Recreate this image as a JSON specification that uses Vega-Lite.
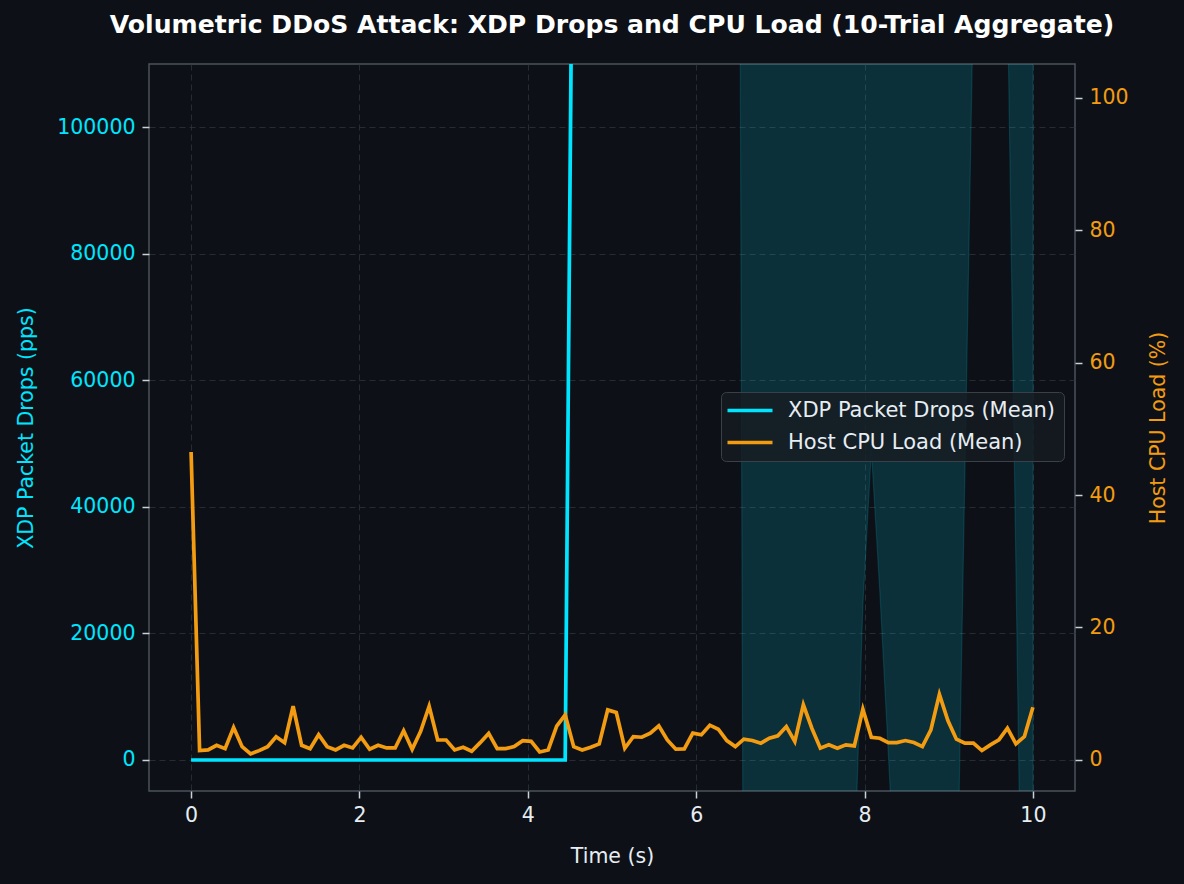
{
  "$schema": "https://vega.github.io/schema/vega-lite/v6.json",
  "width": 926,
  "height": 727,
  "autosize": {"type": "none"},
  "padding": {"left": 149, "top": 64, "right": 109, "bottom": 93},
  "background": "#0d1117",
  "title": {
    "text": "Volumetric DDoS Attack: XDP Drops and CPU Load (10-Trial Aggregate)",
    "font": "DejaVu Sans",
    "fontSize": 25.1,
    "fontWeight": "bold",
    "color": "#ffffff",
    "anchor": "middle",
    "baseline": "alphabetic",
    "offset": 6
  },
  "config": {
    "view": {"fill": "#0d1117", "stroke": "#4b5259", "strokeWidth": 1.5},
    "axis": {
      "domain": false,
      "tickColor": "#c9d1d9",
      "tickSize": 7,
      "tickWidth": 1.5,
      "labelFont": "DejaVu Sans",
      "labelFontSize": 20.5,
      "labelPadding": 7,
      "titleFont": "DejaVu Sans",
      "titleFontSize": 20.5,
      "titleFontWeight": "normal",
      "gridColor": "#30363d",
      "gridOpacity": 0.75,
      "gridDash": [6, 4],
      "gridWidth": 1
    },
    "legend": {
      "labelFont": "DejaVu Sans"
    }
  },
  "data": {
    "values": [
      {"t": 0.0, "cpu": 46.5, "xdp": 0, "lo": 0, "hi": 0},
      {"t": 0.101, "cpu": 1.4, "xdp": 0, "lo": 0, "hi": 0},
      {"t": 0.202, "cpu": 1.5, "xdp": 0, "lo": 0, "hi": 0},
      {"t": 0.303, "cpu": 2.2, "xdp": 0, "lo": 0, "hi": 0},
      {"t": 0.404, "cpu": 1.7, "xdp": 0, "lo": 0, "hi": 0},
      {"t": 0.505, "cpu": 4.9, "xdp": 0, "lo": 0, "hi": 0},
      {"t": 0.606, "cpu": 2.0, "xdp": 0, "lo": 0, "hi": 0},
      {"t": 0.707, "cpu": 0.9, "xdp": 0, "lo": 0, "hi": 0},
      {"t": 0.808, "cpu": 1.4, "xdp": 0, "lo": 0, "hi": 0},
      {"t": 0.909, "cpu": 2.0, "xdp": 0, "lo": 0, "hi": 0},
      {"t": 1.010, "cpu": 3.5, "xdp": 0, "lo": 0, "hi": 0},
      {"t": 1.111, "cpu": 2.6, "xdp": 0, "lo": 0, "hi": 0},
      {"t": 1.212, "cpu": 8.1, "xdp": 0, "lo": 0, "hi": 0},
      {"t": 1.313, "cpu": 2.2, "xdp": 0, "lo": 0, "hi": 0},
      {"t": 1.414, "cpu": 1.7, "xdp": 0, "lo": 0, "hi": 0},
      {"t": 1.515, "cpu": 3.8, "xdp": 0, "lo": 0, "hi": 0},
      {"t": 1.616, "cpu": 2.0, "xdp": 0, "lo": 0, "hi": 0},
      {"t": 1.717, "cpu": 1.5, "xdp": 0, "lo": 0, "hi": 0},
      {"t": 1.818, "cpu": 2.2, "xdp": 0, "lo": 0, "hi": 0},
      {"t": 1.919, "cpu": 1.8, "xdp": 0, "lo": 0, "hi": 0},
      {"t": 2.020, "cpu": 3.4, "xdp": 0, "lo": 0, "hi": 0},
      {"t": 2.121, "cpu": 1.6, "xdp": 0, "lo": 0, "hi": 0},
      {"t": 2.222, "cpu": 2.2, "xdp": 0, "lo": 0, "hi": 0},
      {"t": 2.323, "cpu": 1.8, "xdp": 0, "lo": 0, "hi": 0},
      {"t": 2.424, "cpu": 1.8, "xdp": 0, "lo": 0, "hi": 0},
      {"t": 2.525, "cpu": 4.4, "xdp": 0, "lo": 0, "hi": 0},
      {"t": 2.626, "cpu": 1.6, "xdp": 0, "lo": 0, "hi": 0},
      {"t": 2.727, "cpu": 4.3, "xdp": 0, "lo": 0, "hi": 0},
      {"t": 2.828, "cpu": 8.1, "xdp": 0, "lo": 0, "hi": 0},
      {"t": 2.929, "cpu": 3.0, "xdp": 0, "lo": 0, "hi": 0},
      {"t": 3.030, "cpu": 3.0, "xdp": 0, "lo": 0, "hi": 0},
      {"t": 3.131, "cpu": 1.5, "xdp": 0, "lo": 0, "hi": 0},
      {"t": 3.232, "cpu": 1.9, "xdp": 0, "lo": 0, "hi": 0},
      {"t": 3.333, "cpu": 1.3, "xdp": 0, "lo": 0, "hi": 0},
      {"t": 3.434, "cpu": 2.6, "xdp": 0, "lo": 0, "hi": 0},
      {"t": 3.535, "cpu": 4.0, "xdp": 0, "lo": 0, "hi": 0},
      {"t": 3.636, "cpu": 1.7, "xdp": 0, "lo": 0, "hi": 0},
      {"t": 3.737, "cpu": 1.7, "xdp": 0, "lo": 0, "hi": 0},
      {"t": 3.838, "cpu": 2.0, "xdp": 0, "lo": 0, "hi": 0},
      {"t": 3.939, "cpu": 2.9, "xdp": 0, "lo": 0, "hi": 0},
      {"t": 4.040, "cpu": 2.8, "xdp": 0, "lo": 0, "hi": 0},
      {"t": 4.141, "cpu": 1.2, "xdp": 0, "lo": 0, "hi": 0},
      {"t": 4.242, "cpu": 1.5, "xdp": 0, "lo": 0, "hi": 0},
      {"t": 4.343, "cpu": 5.1, "xdp": 0, "lo": 0, "hi": 0},
      {"t": 4.444, "cpu": 6.8, "xdp": 0, "lo": 0, "hi": 0},
      {"t": 4.545, "cpu": 2.0, "xdp": 161000, "lo": 125000, "hi": 197000},
      {"t": 4.646, "cpu": 1.5, "xdp": 372000, "lo": 190000, "hi": 554000},
      {"t": 4.747, "cpu": 1.9, "xdp": 398000, "lo": 245000, "hi": 551000},
      {"t": 4.848, "cpu": 2.4, "xdp": 405000, "lo": 262000, "hi": 548000},
      {"t": 4.949, "cpu": 7.55, "xdp": 391000, "lo": 231000, "hi": 551000},
      {"t": 5.051, "cpu": 7.15, "xdp": 410000, "lo": 270000, "hi": 550000},
      {"t": 5.152, "cpu": 1.76, "xdp": 402000, "lo": 255000, "hi": 549000},
      {"t": 5.253, "cpu": 3.52, "xdp": 396000, "lo": 238000, "hi": 554000},
      {"t": 5.354, "cpu": 3.42, "xdp": 412000, "lo": 276000, "hi": 548000},
      {"t": 5.455, "cpu": 4.03, "xdp": 407000, "lo": 262000, "hi": 552000},
      {"t": 5.556, "cpu": 5.14, "xdp": 399000, "lo": 244000, "hi": 554000},
      {"t": 5.657, "cpu": 3.02, "xdp": 415000, "lo": 281000, "hi": 549000},
      {"t": 5.758, "cpu": 1.61, "xdp": 404000, "lo": 258000, "hi": 550000},
      {"t": 5.859, "cpu": 1.66, "xdp": 398000, "lo": 240000, "hi": 556000},
      {"t": 5.960, "cpu": 4.03, "xdp": 409000, "lo": 266000, "hi": 552000},
      {"t": 6.061, "cpu": 3.78, "xdp": 413000, "lo": 279000, "hi": 547000},
      {"t": 6.162, "cpu": 5.24, "xdp": 401000, "lo": 250000, "hi": 552000},
      {"t": 6.263, "cpu": 4.63, "xdp": 395000, "lo": 236000, "hi": 554000},
      {"t": 6.364, "cpu": 2.92, "xdp": 408000, "lo": 290000, "hi": 526000},
      {"t": 6.465, "cpu": 2.01, "xdp": 402000, "lo": 343600, "hi": 460400},
      {"t": 6.566, "cpu": 3.12, "xdp": 386000, "lo": -56400, "hi": 828400},
      {"t": 6.667, "cpu": 2.92, "xdp": 394000, "lo": -82000, "hi": 870000},
      {"t": 6.768, "cpu": 2.52, "xdp": 401000, "lo": -105000, "hi": 907000},
      {"t": 6.869, "cpu": 3.27, "xdp": 397000, "lo": -96000, "hi": 890000},
      {"t": 6.970, "cpu": 3.63, "xdp": 405000, "lo": -118000, "hi": 928000},
      {"t": 7.071, "cpu": 5.04, "xdp": 392000, "lo": -88000, "hi": 872000},
      {"t": 7.172, "cpu": 2.77, "xdp": 399000, "lo": -101000, "hi": 899000},
      {"t": 7.273, "cpu": 8.31, "xdp": 410000, "lo": -124000, "hi": 944000},
      {"t": 7.374, "cpu": 4.78, "xdp": 396000, "lo": -93000, "hi": 885000},
      {"t": 7.475, "cpu": 1.76, "xdp": 403000, "lo": -110000, "hi": 916000},
      {"t": 7.576, "cpu": 2.27, "xdp": 391000, "lo": -85000, "hi": 867000},
      {"t": 7.677, "cpu": 1.76, "xdp": 398000, "lo": -99000, "hi": 895000},
      {"t": 7.778, "cpu": 2.27, "xdp": 385000, "lo": -72000, "hi": 842000},
      {"t": 7.879, "cpu": 2.11, "xdp": 372000, "lo": -17800, "hi": 761800},
      {"t": 7.980, "cpu": 7.65, "xdp": 360000, "lo": 24500, "hi": 695500},
      {"t": 8.081, "cpu": 3.42, "xdp": 351000, "lo": 49000, "hi": 653000},
      {"t": 8.182, "cpu": 3.27, "xdp": 358000, "lo": 26500, "hi": 689500},
      {"t": 8.283, "cpu": 2.62, "xdp": 369000, "lo": 950, "hi": 737050},
      {"t": 8.384, "cpu": 2.62, "xdp": 378000, "lo": -25600, "hi": 781600},
      {"t": 8.485, "cpu": 2.92, "xdp": 389000, "lo": -68000, "hi": 846000},
      {"t": 8.586, "cpu": 2.62, "xdp": 396000, "lo": -94000, "hi": 886000},
      {"t": 8.687, "cpu": 2.01, "xdp": 402000, "lo": -112000, "hi": 916000},
      {"t": 8.788, "cpu": 4.53, "xdp": 399000, "lo": -103000, "hi": 901000},
      {"t": 8.889, "cpu": 9.9, "xdp": 393000, "lo": -87000, "hi": 873000},
      {"t": 8.990, "cpu": 5.93, "xdp": 385000, "lo": -61000, "hi": 831000},
      {"t": 9.091, "cpu": 3.12, "xdp": 377000, "lo": -29600, "hi": 783600},
      {"t": 9.192, "cpu": 2.52, "xdp": 388000, "lo": 45500, "hi": 730500},
      {"t": 9.293, "cpu": 2.52, "xdp": 397000, "lo": 120600, "hi": 673400},
      {"t": 9.394, "cpu": 1.41, "xdp": 404000, "lo": 168000, "hi": 640000},
      {"t": 9.495, "cpu": 2.27, "xdp": 409000, "lo": 192000, "hi": 626000},
      {"t": 9.596, "cpu": 3.02, "xdp": 401000, "lo": 171000, "hi": 631000},
      {"t": 9.697, "cpu": 4.78, "xdp": 394000, "lo": 121800, "hi": 666200},
      {"t": 9.798, "cpu": 2.42, "xdp": 387000, "lo": 30500, "hi": 743500},
      {"t": 9.899, "cpu": 3.52, "xdp": 392000, "lo": -60700, "hi": 844700},
      {"t": 10.0, "cpu": 7.96, "xdp": 398000, "lo": -152000, "hi": 948000}
    ]
  },
  "encoding": {
    "x": {
      "field": "t",
      "type": "quantitative",
      "scale": {"domain": [-0.5, 10.5], "nice": false, "zero": false},
      "axis": {
        "values": [0, 2, 4, 6, 8, 10],
        "format": "d",
        "grid": true,
        "labelColor": "#e6edf3",
        "title": "Time (s)",
        "titleColor": "#e6edf3",
        "titlePadding": 21
      }
    }
  },
  "layer": [
    {
      "layer": [
        {
          "mark": {
            "type": "area",
            "clip": true,
            "fill": "#00e5ff",
            "fillOpacity": 0.15,
            "stroke": "#00e5ff",
            "strokeOpacity": 0.15,
            "strokeWidth": 1.2
          },
          "encoding": {
            "y": {
              "field": "lo",
              "type": "quantitative",
              "scale": {"domain": [-4900, 110000], "nice": false, "zero": false},
              "axis": {
                "orient": "left",
                "values": [0, 20000, 40000, 60000, 80000, 100000],
                "format": "d",
                "grid": true,
                "labelColor": "#00e5ff",
                "title": "XDP Packet Drops (pps)",
                "titleColor": "#00e5ff",
                "titlePadding": 20
              }
            },
            "y2": {"field": "hi"}
          }
        },
        {
          "mark": {"type": "line", "clip": true, "strokeWidth": 3.7},
          "encoding": {
            "y": {
              "field": "xdp",
              "type": "quantitative",
              "axis": {
                "orient": "left",
                "values": [0, 20000, 40000, 60000, 80000, 100000],
                "format": "d",
                "grid": true,
                "labelColor": "#00e5ff",
                "title": "XDP Packet Drops (pps)",
                "titleColor": "#00e5ff",
                "titlePadding": 20
              }
            },
            "color": {
              "datum": "XDP Packet Drops (Mean)",
              "type": "nominal",
              "scale": {
                "domain": ["XDP Packet Drops (Mean)", "Host CPU Load (Mean)"],
                "range": ["#00e5ff", "#f39c12"]
              },
              "legend": {
                "orient": "none",
                "legendX": 572,
                "legendY": 328,
                "title": null,
                "direction": "vertical",
                "symbolType": "M-2.4,0H6.6",
                "symbolSize": 100,
                "symbolStrokeWidth": 3.7,
                "labelFontSize": 21,
                "labelColor": "#e6edf3",
                "labelOffset": 38,
                "labelLimit": 500,
                "rowPadding": 10,
                "padding": 8,
                "fillColor": "rgba(22,27,34,0.8)",
                "strokeColor": "#3a4048",
                "cornerRadius": 5
              }
            }
          }
        }
      ]
    },
    {
      "mark": {"type": "line", "clip": true, "strokeWidth": 3.7},
      "encoding": {
        "y": {
          "field": "cpu",
          "type": "quantitative",
          "scale": {"domain": [-4.7, 105.1], "nice": false, "zero": false},
          "axis": {
            "orient": "right",
            "values": [0, 20, 40, 60, 80, 100],
            "grid": false,
            "labelColor": "#f39c12",
            "title": "Host CPU Load (%)",
            "titleColor": "#f39c12",
            "titleAngle": 270,
            "titleBaseline": "top",
            "titlePadding": 20
          }
        },
        "color": {"datum": "Host CPU Load (Mean)", "type": "nominal"}
      }
    }
  ],
  "resolve": {"scale": {"y": "independent"}}
}
